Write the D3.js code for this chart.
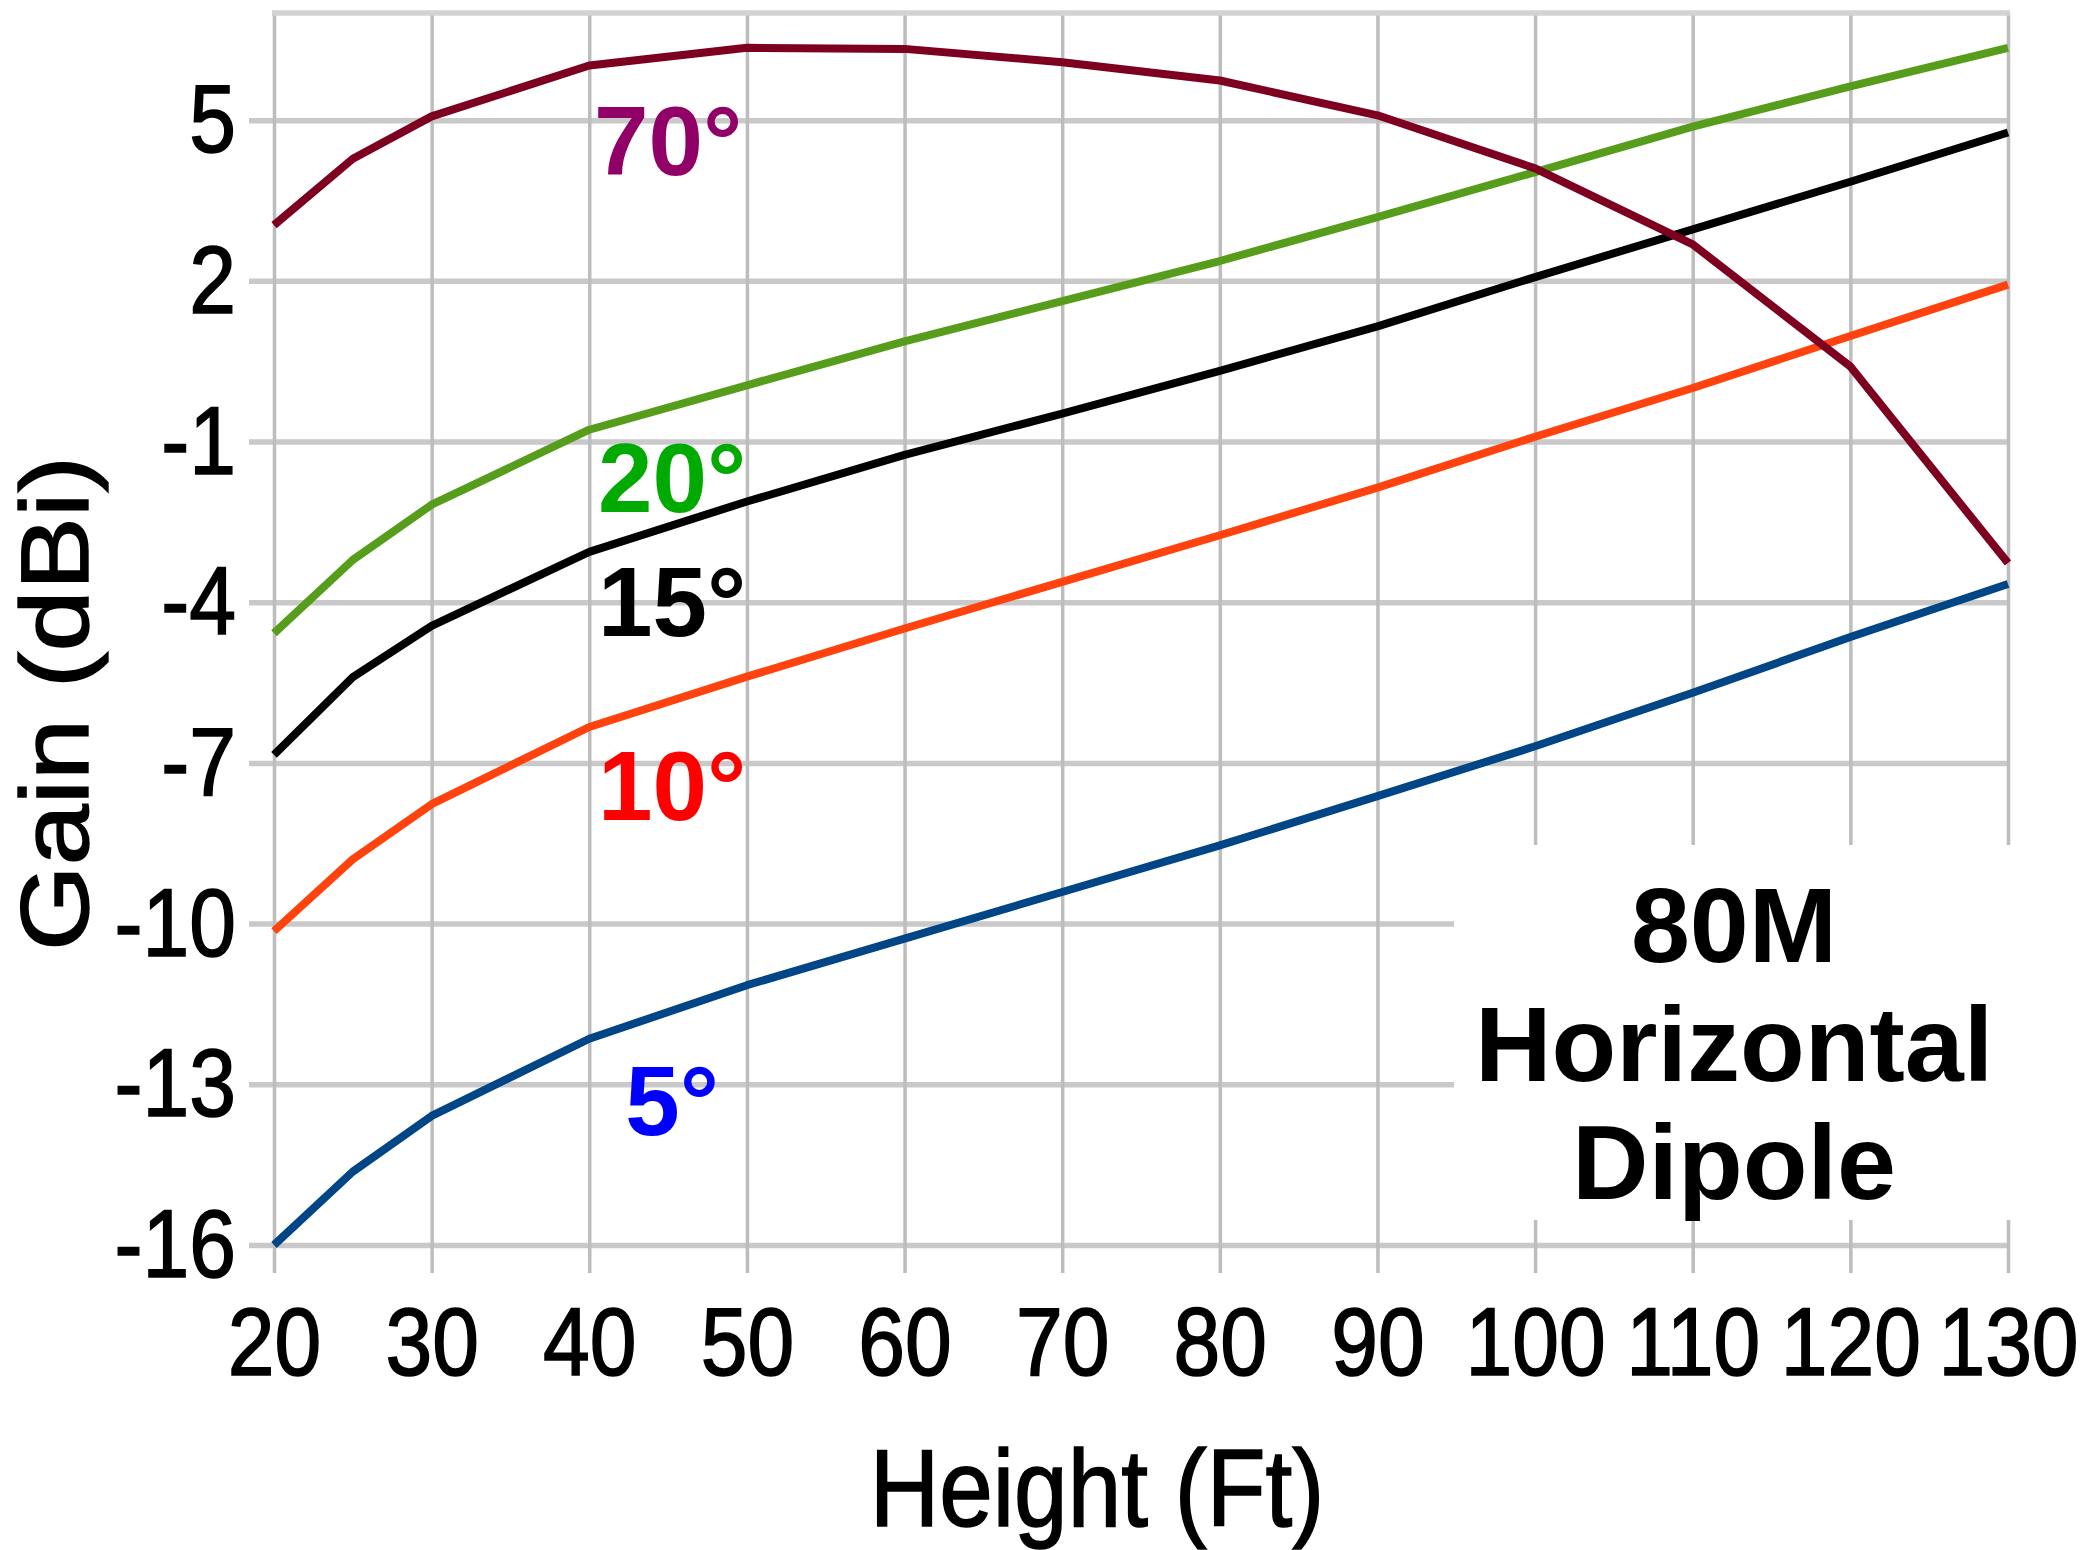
<!DOCTYPE html>
<html>
<head>
<meta charset="utf-8">
<script src="https://cdn.jsdelivr.net/npm/d3@7"></script>
<style>
  html, body { margin: 0; padding: 0; background: #ffffff; }
  svg { display: block; }
</style>
</head>
<body>
<script>
// ---- data ----
const heights = [20, 25, 30, 40, 50, 60, 70, 80, 90, 100, 110, 120, 130];
const gain5  = [-16.0, -14.63, -13.59, -12.15, -11.15, -10.28, -9.41, -8.54, -7.62, -6.69, -5.69, -4.65, -3.66];
const gain10 = [-10.14, -8.8, -7.77, -6.33, -5.39, -4.49, -3.62, -2.75, -1.86, -0.91, 0.0, 0.97, 1.93];
const gain15 = [-6.85, -5.4, -4.44, -3.06, -2.12, -1.25, -0.48, 0.32, 1.15, 2.07, 2.96, 3.85, 4.77];
const gain20 = [-4.58, -3.21, -2.18, -0.78, 0.05, 0.87, 1.62, 2.37, 3.19, 4.03, 4.88, 5.63, 6.35];
const gain70 = [3.04, 4.28, 5.07, 6.02, 6.35, 6.33, 6.08, 5.74, 5.09, 4.1, 2.68, 0.4, -3.27];
const seriesNames = ["70°", "20°", "15°", "10°", "5°"];
const xTicks = [20, 30, 40, 50, 60, 70, 80, 90, 100, 110, 120, 130];
const yTicks = [-16, -13, -10, -7, -4, -1, 2, 5];
const titleLines = ["80M", "Horizontal", "Dipole"];

// ---- layout ----
const W = 2088, H = 1550;
const x0 = 274, x1 = 2008, yTop = 13, yBot = 1245;
const SX = 0.875; // horizontal compression of the original chart text

const svg = d3.select("body").append("svg")
  .attr("width", W).attr("height", H)
  .style("font-family", "'Liberation Sans', Arial, sans-serif");
svg.append("rect").attr("width", W).attr("height", H).attr("fill", "#fff");

const x = d3.scaleLinear().domain([20, 130]).range([x0, x1]);
const y = d3.scaleLinear().domain([-16, 7]).range([yBot, yTop]);

// ---- grid ----
const gridY = svg.append("g")
  .attr("transform", `translate(${x0 - 25},0)`)
  .call(d3.axisLeft(y).tickValues(yTicks).tickSize(-(x1 - x0 + 25)).tickFormat(""));
gridY.select(".domain").remove();
gridY.selectAll("line").attr("stroke", "#c9c9c9").attr("stroke-width", 5.5);

const gridX = svg.append("g")
  .attr("transform", `translate(0,${yBot + 28})`)
  .call(d3.axisBottom(x).tickValues(xTicks).tickSize(-(yBot + 28 - yTop)).tickFormat(""));
gridX.select(".domain").remove();
gridX.selectAll("line").attr("stroke", "#bdbdbd").attr("stroke-width", 3.5);

// top border
svg.append("line")
  .attr("x1", x0 - 2).attr("x2", x1 + 2)
  .attr("y1", y(7)).attr("y2", y(7))
  .attr("stroke", "#d3d3d3").attr("stroke-width", 5.5);

// ---- axis labels ----
const axY = svg.append("g")
  .attr("transform", `translate(${x0},0)`)
  .call(d3.axisLeft(y).tickValues(yTicks).tickSize(0).tickFormat(d => String(d)));
axY.select(".domain").remove();
axY.selectAll("text")
  .attr("x", -38 / SX).attr("dy", null).attr("y", 31.5)
  .attr("transform", `scale(${SX},1)`)
  .attr("fill", "#000").attr("stroke", "#000").attr("stroke-width", 1.6)
  .style("font-size", "96px")
  .style("font-family", "'Liberation Sans', Arial, sans-serif");

const axX = svg.append("g")
  .attr("transform", `translate(0,${yBot})`)
  .call(d3.axisBottom(x).tickValues(xTicks).tickSize(0).tickFormat(d => String(d)));
axX.select(".domain").remove();
axX.selectAll("text")
  .attr("x", 0).attr("dy", null).attr("y", 130)
  .attr("transform", `scale(${SX},1)`)
  .attr("fill", "#000").attr("stroke", "#000").attr("stroke-width", 1.6)
  .style("font-size", "96px")
  .style("font-family", "'Liberation Sans', Arial, sans-serif");

// axis titles
svg.append("text")
  .attr("transform", `translate(88,703.5) rotate(-90) scale(1,${SX})`)
  .attr("text-anchor", "middle")
  .style("font-size", "110px").attr("fill", "#000")
  .attr("stroke", "#000").attr("stroke-width", 1.6)
  .text("Gain (dBi)");

svg.append("text")
  .attr("transform", `scale(${SX},1)`)
  .attr("x", 1097 / SX).attr("y", 1526)
  .attr("text-anchor", "middle")
  .style("font-size", "110px").attr("fill", "#000")
  .attr("stroke", "#000").attr("stroke-width", 1.6)
  .text("Height (Ft)");

// ---- white box for title ----
svg.append("rect")
  .attr("x", 1454).attr("y", 845).attr("width", 2030 - 1454).attr("height", 1220 - 845)
  .attr("fill", "#fff");

// ---- series ----
const series = [
  { name: seriesNames[0], values: gain70, color: "#7e0021", labelColor: "#910066", ly: 3.98, lx: 45.0 },
  { name: seriesNames[1], values: gain20, color: "#579d1c", labelColor: "#00aa00", ly: -2.31, lx: 45.25 },
  { name: seriesNames[2], values: gain15, color: "#000000", labelColor: "#000000", ly: -4.63, lx: 45.25 },
  { name: seriesNames[3], values: gain10, color: "#ff420e", labelColor: "#ff0000", ly: -8.06, lx: 45.25 },
  { name: seriesNames[4], values: gain5,  color: "#004586", labelColor: "#0000ff", ly: -13.94, lx: 45.25 }
];

const line = d3.line()
  .x((d, i) => x(heights[i]))
  .y(d => y(d));

const drawOrder = [4, 3, 2, 1, 0];
drawOrder.forEach(k => {
  const s = series[k];
  svg.append("path")
    .datum(s.values)
    .attr("d", line)
    .attr("fill", "none")
    .attr("stroke", s.color)
    .attr("stroke-width", 8)
    .attr("stroke-linejoin", "round");
});

// series labels
series.forEach(s => {
  svg.append("text")
    .attr("x", x(s.lx)).attr("y", y(s.ly))
    .attr("text-anchor", "middle")
    .style("font-size", "98px").style("font-weight", "bold")
    .attr("fill", s.labelColor)
    .text(s.name);
});

// ---- title ----
const tt = svg.append("text")
  .attr("text-anchor", "middle")
  .style("font-size", "106px").style("font-weight", "bold")
  .attr("fill", "#000");
const baselines = [962, 1081, 1199];
titleLines.forEach((t, i) => {
  tt.append("tspan").attr("x", 1734).attr("y", baselines[i]).text(t);
});
</script>
</body>
</html>
